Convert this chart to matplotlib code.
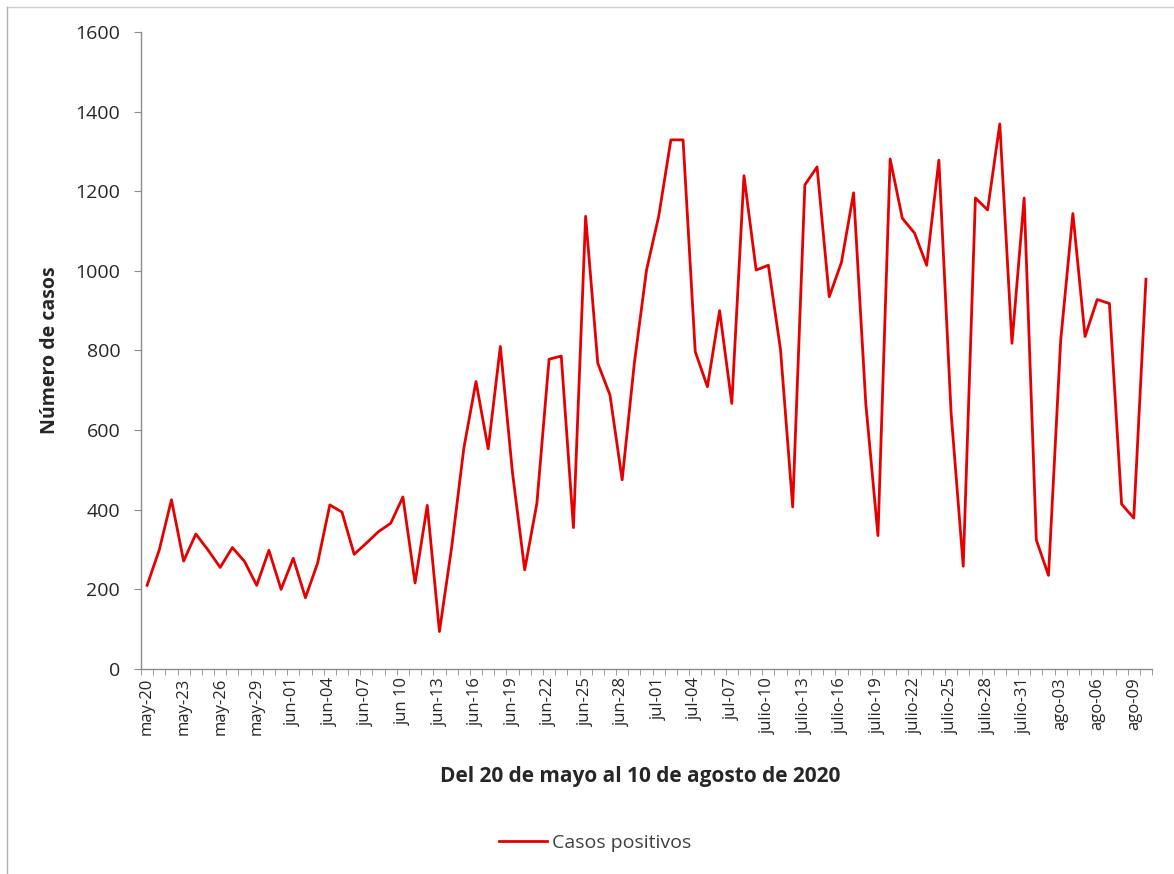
import matplotlib
matplotlib.use('Agg')
import matplotlib.pyplot as plt
from matplotlib.lines import Line2D
import numpy as np

# === Data (20 May - 10 Aug 2020) ===
casos = [210, 299, 425, 271, 339, 299, 255, 305, 270, 210,
         298, 200, 278, 179, 266, 412, 394, 288, 316, 345,
         366, 432, 216, 411, 94, 305, 554, 722, 553, 810,
         492, 249, 416, 778, 786, 355, 1137, 768, 688, 475,
         768, 1002, 1137, 1329, 1329, 797, 709, 900, 667, 1239,
         1002, 1014, 802, 407, 1216, 1261, 935, 1021, 1196, 667,
         335, 1281, 1132, 1095, 1014, 1278, 645, 258, 1183, 1153,
         1369, 818, 1183, 324, 235, 825, 1144, 835, 928, 918,
         414, 379, 979]

tick_labels = ["may-20", "may-23", "may-26", "may-29", "jun-01", "jun-04",
               "jun-07", "jun 10", "jun-13", "jun-16", "jun-19", "jun-22",
               "jun-25", "jun-28", "jul-01", "jul-04", "jul-07", "julio-10",
               "julio-13", "julio-16", "julio-19", "julio-22", "julio-25",
               "julio-28", "julio-31", "ago-03", "ago-06", "ago-09"]
label_step = 3

y_ticks = [0, 200, 400, 600, 800, 1000, 1200, 1400, 1600]

# === Style ===
plt.rcParams['font.family'] = ['Open Sans', 'DejaVu Sans']
axis_gray = "#8c8c8c"
line_red = "#e60000"
text_col = "#262626"

x = np.arange(len(casos))

fig = plt.figure(figsize=(11.74, 8.74), dpi=100)
ax = fig.add_axes([0.1201, 0.2346, 0.8612, 0.7288])

line, = ax.plot(x, casos, color=line_red, linewidth=2.0, label="Casos positivos")

ax.set_xlim(-0.5, len(casos) - 0.5)
ax.set_ylim(0, 1600)

# major ticks carry the labels, minor ticks sit between categories
ax.set_xticks(x[::label_step])
ax.set_xticklabels(tick_labels, rotation=90, fontsize=12, color=text_col)
ax.set_xticks(np.arange(-0.5, len(casos), 1), minor=True)
ax.tick_params(axis='x', which='major', length=0, pad=6)
ax.tick_params(axis='x', which='minor', length=4.5, color=axis_gray, direction='out')

ax.set_yticks(y_ticks)
ax.set_yticklabels([str(v) for v in y_ticks], fontsize=14, color=text_col)
ax.tick_params(axis='y', length=5, color=axis_gray, direction='out', pad=10)

for s in ["top", "right"]:
    ax.spines[s].set_visible(False)
for s in ["left", "bottom"]:
    ax.spines[s].set_color(axis_gray)
    ax.spines[s].set_linewidth(1.0)

fig.text(0.0426, 0.599, "Número de casos", rotation=90, ha="center", va="center",
         fontsize=14, fontweight="bold", color=text_col)
fig.text(0.545, 0.111, "Del 20 de mayo al 10 de agosto de 2020", ha="center", va="center",
         fontsize=15, fontweight="bold", color=text_col)

fig.legend(handles=[line], loc="center", bbox_to_anchor=(0.507, 0.0355), frameon=False,
           fontsize=14, handlelength=2.5, handletextpad=0.25, labelcolor="#404040")

# chart area border (only top and left edges fall inside the picture)
fig.add_artist(Line2D([7 / 1174, 1], [1 - 7 / 874, 1 - 7 / 874], transform=fig.transFigure,
                      color="#d0d0d0", linewidth=1.0))
fig.add_artist(Line2D([7 / 1174, 7 / 1174], [0, 1 - 7 / 874], transform=fig.transFigure,
                      color="#b0b0b0", linewidth=1.0))

fig.savefig("out.png", dpi=100)
